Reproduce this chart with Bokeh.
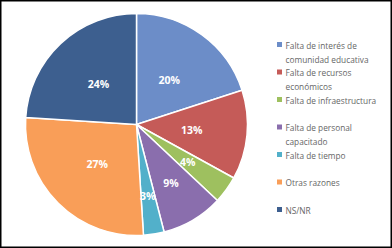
import math
import textwrap
from bokeh.plotting import figure
from bokeh.models import Range1d, ColumnDataSource
from bokeh.core.properties import value
from bokeh.embed import file_html
from bokeh.resources import INLINE

# ---- data ----
categories = ["Falta de interés de comunidad educativa",
              "Falta de recursos económicos",
              "Falta de infraestructura",
              "Falta de personal capacitado",
              "Falta de tiempo",
              "Otras razones",
              "NS/NR"]
percents = [20, 13, 4, 9, 3, 27, 24]

# ---- style ----
colors = ["#6C8DC8", "#C55B58", "#9EC05F", "#8A6EAD", "#52B0CA", "#F99E58", "#3D5F8F"]
label_r = [0.5, 0.5, 0.57, 0.61, 0.65, 0.5, 0.5]
W, H = 392, 248
cx, cy, R = 136, 124, 111

p = figure(width=W, height=H, output_backend="svg", toolbar_location=None,
           x_range=Range1d(0, W), y_range=Range1d(H, 0), min_border=0)
p.axis.visible = False
p.grid.visible = False
p.outline_line_color = "black"
p.outline_line_width = 2
p.background_fill_color = "white"
p.border_fill_color = "white"

total = sum(percents)
starts, ends, lx, ly, txt = [], [], [], [], []
cum = 0.0
for i, v in enumerate(percents):
    f0 = cum / total
    cum += v
    f1 = cum / total
    # screen angles: start at 12 o'clock, go clockwise
    starts.append(math.pi / 2 - f1 * 2 * math.pi)
    ends.append(math.pi / 2 - f0 * 2 * math.pi)
    fm = (f0 + f1) / 2 * 2 * math.pi
    lx.append(cx + label_r[i] * R * math.sin(fm))
    ly.append(cy - label_r[i] * R * math.cos(fm))
    txt.append(f"{v}%")

src = ColumnDataSource(dict(start=starts, end=ends, color=colors))
p.wedge(x=cx, y=cy, radius=R, start_angle="start", end_angle="end",
        direction="anticlock", fill_color="color", line_color="white",
        line_width=1.5, source=src)

p.text(x=lx, y=ly, text=txt, text_color="white", text_font=value("Open Sans"),
       text_font_style="bold", text_font_size="10.5px", text_align="center",
       text_baseline="middle")

# legend
leg_x = 279
leg_y0 = 44
leg_dy = 27.5
mx, my, lt, ty = [], [], [], []
for i, c in enumerate(categories):
    y = leg_y0 + i * leg_dy
    mx.append(leg_x)
    my.append(y)
    lt.append("\n".join(textwrap.wrap(c, 24)))
    ty.append(y - 5)
p.rect(x=mx, y=my, width=5, height=5, fill_color=colors, line_color=None)
p.text(x=[leg_x + 6] * len(lt), y=ty, text=lt, text_color="#666666",
       text_font=value("Open Sans"), text_font_size="8.3px",
       text_align="left", text_baseline="top", text_line_height=1.3)

open("out.html", "w").write(file_html(p, INLINE))
